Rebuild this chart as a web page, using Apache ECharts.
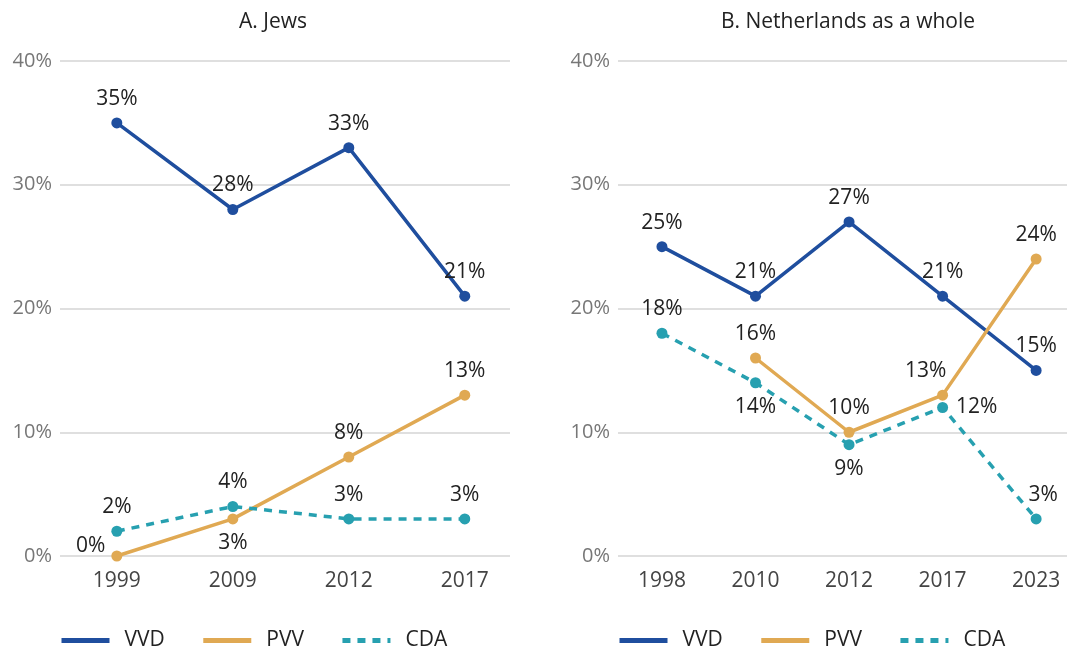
<!DOCTYPE html>
<html>
<head>
<meta charset="utf-8">
<script src="https://cdn.jsdelivr.net/npm/echarts@6/dist/echarts.min.js"></script>
<style>
  html, body { margin: 0; padding: 0; background: #fff; }
  #chart { width: 1071px; height: 650px; }
</style>
</head>
<body>
<div id="chart"></div>
<script>
// panel A: Jews
const yearsA = ['1999', '2009', '2012', '2017'];
const vvdA = [35, 28, 33, 21];
const pvvA = [0, 3, 8, 13];
const cdaA = [2, 4, 3, 3];
const pvvPosA = ['left', 'bottom', 'top', 'top'];

// panel B: Netherlands as a whole
const yearsB = ['1998', '2010', '2012', '2017', '2023'];
const vvdB = [25, 21, 27, 21, 15];
const pvvB = [null, 16, 10, 13, 24];
const cdaB = [18, 14, 9, 12, 3];
const cdaPosB = ['top', 'bottom', 'bottom', 'right', 'top'];

const FONT = '"Open Sans", "Noto Sans", sans-serif';
const C_VVD = '#1F4E9E';
const C_PVV = '#E0A953';
const C_CDA = '#27A0B0';

const chart = echarts.init(document.getElementById('chart'));

// turn a value list into [index, value] points, with optional label positions
function pts(vals, pos, offs) {
  return vals.map(function (v, i) {
    if (v === null) return [i, null];
    const p = { value: [i, v], label: {} };
    if (pos) p.label.position = pos[i];
    if (offs && offs[i]) p.label.offset = offs[i];
    return p;
  });
}

function xAxis(gi, years, min, max) {
  const idx = years.map(function (y, i) { return i; });
  return {
    type: 'value', gridIndex: gi, min: min, max: max,
    axisLine: { show: false },
    axisTick: { show: false },
    splitLine: { show: false },
    axisLabel: {
      customValues: idx,
      formatter: function (v) { return years[Math.round(v)]; },
      color: '#444', fontSize: 21, fontFamily: FONT, margin: 15
    }
  };
}

function yAxis(gi) {
  return {
    type: 'value', gridIndex: gi, min: 0, max: 40, interval: 10,
    axisLine: { show: false },
    axisTick: { show: false },
    axisLabel: {
      formatter: '{value}%', color: '#777', fontSize: 20, fontFamily: FONT, margin: 8
    },
    splitLine: { lineStyle: { color: '#d4d4d4', width: 1.5 } }
  };
}

function line(name, gi, data, color, dashed) {
  return {
    name: name, type: 'line', xAxisIndex: gi, yAxisIndex: gi,
    data: data, symbol: 'circle', symbolSize: 11,
    connectNulls: false,
    lineStyle: { color: color, width: 3.5, type: dashed ? [8, 7] : 'solid' },
    itemStyle: { color: color },
    label: {
      show: true, position: 'top', distance: 8,
      formatter: function (p) { return p.value[1] + '%'; },
      color: '#222', fontSize: 21, fontFamily: FONT
    },
    z: dashed ? 3 : 2
  };
}

function legend(left) {
  return {
    left: left, top: 630, padding: 0, itemWidth: 48, itemHeight: 14, itemGap: 36,
    data: ['VVD', 'PVV', 'CDA'],
    textStyle: { color: '#222', fontSize: 21, fontFamily: FONT, padding: [0, 0, 0, 10] },
    itemStyle: { opacity: 0 },
    lineStyle: { width: 5 }
  };
}

const option = {
  animation: false,
  backgroundColor: '#fff',
  title: [
    { text: 'A. Jews', left: 268, top: 7, textAlign: 'center',
      textStyle: { color: '#222', fontSize: 21, fontWeight: 'normal', fontFamily: FONT } },
    { text: 'B. Netherlands as a whole', left: 843, top: 7, textAlign: 'center',
      textStyle: { color: '#222', fontSize: 21, fontWeight: 'normal', fontFamily: FONT } }
  ],
  legend: [legend(59), legend(617)],
  grid: [
    { left: 60, width: 450, top: 61, height: 495 },
    { left: 618, width: 449, top: 61, height: 495 }
  ],
  xAxis: [xAxis(0, yearsA, -0.49, 3.39), xAxis(1, yearsB, -0.47, 4.33)],
  yAxis: [yAxis(0), yAxis(1)],
  series: [
    line('VVD', 0, pts(vvdA), C_VVD, false),
    line('PVV', 0, pts(pvvA, pvvPosA, [[2, -10], null, null, null]), C_PVV, false),
    line('CDA', 0, pts(cdaA), C_CDA, true),
    line('VVD', 1, pts(vvdB), C_VVD, false),
    line('PVV', 1, pts(pvvB, null, [null, null, null, [-17, 0], null]), C_PVV, false),
    line('CDA', 1, pts(cdaB, cdaPosB, [null, null, null, null, [7, 0]]), C_CDA, true)
  ]
};

chart.setOption(option);
</script>
</body>
</html>
